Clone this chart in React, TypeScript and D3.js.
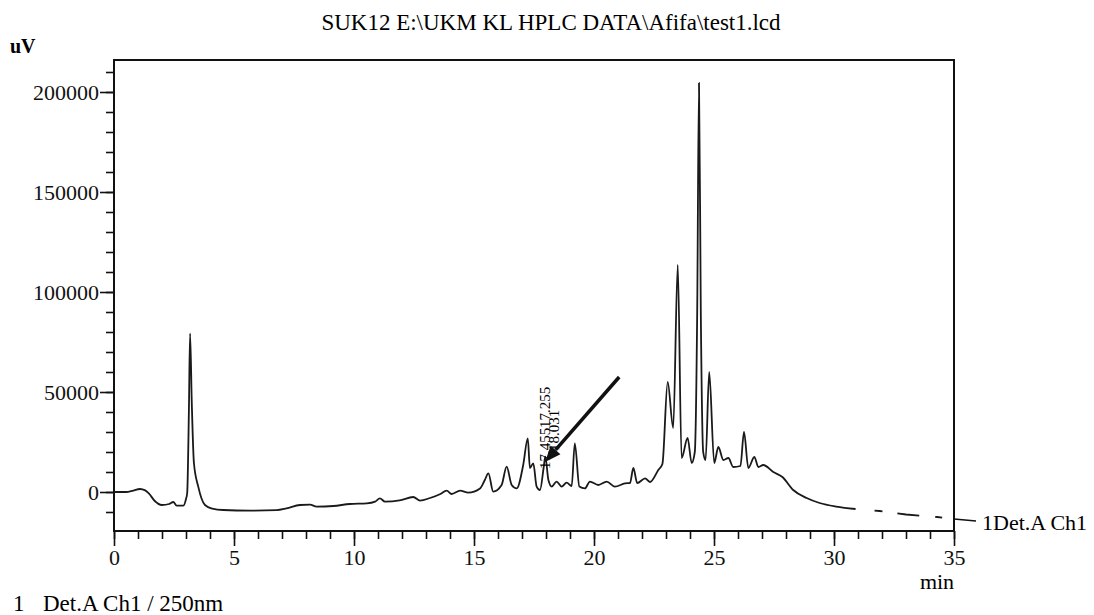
import { useEffect, useRef } from 'react';
import * as d3 from 'd3';

// retention time (min) and detector signal (uV)
const times = [
  0, 0.5, 0.8, 1.08, 1.3, 1.45, 1.7, 1.99, 2.3, 2.47, 2.61, 2.89, 3.0, 3.05, 3.12, 3.17, 3.24, 3.33, 3.51, 3.79,
  4.1, 4.55, 5.67, 6.78, 7.19, 7.75, 8.17, 8.44, 9.14, 9.83, 10.53, 10.88, 11.08, 11.29, 11.9, 12.47, 12.75, 13.17,
  13.6, 13.86, 14.07, 14.42, 14.76, 15.25, 15.45, 15.6, 15.8, 16.15, 16.36, 16.57, 16.78, 17.05, 17.24, 17.33, 17.47,
  17.61, 17.75, 17.9, 17.97, 18.1, 18.24, 18.44, 18.65, 18.86, 19.07, 19.2, 19.39, 19.62, 19.83, 20.18, 20.53, 20.87,
  21.29, 21.5, 21.64, 21.8, 22.13, 22.33, 22.68, 22.85, 23.07, 23.3, 23.49, 23.65, 23.9, 24.07, 24.2, 24.3, 24.375,
  24.45, 24.55, 24.65, 24.8, 25.01, 25.18, 25.39, 25.6, 25.8, 26.1, 26.25, 26.43, 26.68, 26.85, 27.05, 27.47, 27.85,
  28.3, 28.86, 29.4, 30.1, 30.9
];
const signal = [
  0, 0, 700, 1500, 800, -700, -4500, -6500, -6000, -5000, -6800, -6800, -3500, -500, 40000, 79300, 45000, 14500, 2700, -6500,
  -8300, -9000, -9300, -9100, -8200, -6500, -6300, -7300, -7000, -6000, -5700, -4800, -3200, -4800, -4200, -2500, -4300, -3000,
  -1000, 700, -1000, 700, -300, 1800, 6000, 9300, 200, 3500, 12700, 3500, 1800, 13500, 26800, 12000, 14300,
  2700, 1000, 12000, 17700, 6000, 2700, 5200, 2700, 4700, 3000, 24300, 2700, 1800, 5200, 3500, 5200, 2700,
  4300, 4500, 12000, 4500, 6800, 5000, 11000, 14000, 55000, 32000, 113500, 17000, 27000, 14500, 20000, 90000, 204500,
  90000, 20000, 16000, 60000, 14500, 22500, 16000, 17000, 12500, 13000, 30000, 12000, 17500, 12500, 13500, 10000, 7500,
  1000, -3000, -5500, -7300, -8500
];
// baseline drift drawn dashed after the run data ends
const tailTimes = [30.9, 31.9, 33.0, 34.3, 35];
const tailSignal = [-8500, -9500, -11250, -12500, -13500];

const yMinor = d3.range(-10000, 210001, 10000);
const yMajor = [0, 50000, 100000, 150000, 200000];
const xMinor = d3.range(0, 36, 1);
const xMajor = [0, 5, 10, 15, 20, 25, 30, 35];

const peakLabels = ['17.255', '17.455', '18.031'];
const peakLabelTimes = [17.255, 17.455, 18.031];
const peakLabelTops = [19500, -1000, 8000];

const titleText = 'SUK12 E:\\UKM KL HPLC DATA\\Afifa\\test1.lcd';
const channelName = '1Det.A Ch1';
const legendText = 'Det.A Ch1 / 250nm';

const FONT = 'Liberation Serif, Tinos, DejaVu Serif, serif';

export default function App() {
  const svgRef = useRef<SVGSVGElement>(null);

  useEffect(() => {
    const svg = d3.select(svgRef.current);
    svg.selectAll('*').remove();

    const width = 1094;
    const height = 615;
    const margin = { top: 60, right: 140, bottom: 84, left: 114 };

    svg.attr('width', width).attr('height', height)
      .attr('font-family', FONT);

    const x = d3.scaleLinear()
      .domain([0, 35])
      .range([margin.left, width - margin.right]);

    const y = d3.scaleLinear()
      .domain([-19500, 216000])
      .range([height - margin.bottom, margin.top]);

    const [x0, x1] = x.range();
    const [yb, yt] = y.range();

    // title + unit
    svg.append('text')
      .attr('x', 551)
      .attr('y', 30)
      .attr('text-anchor', 'middle')
      .attr('font-family', FONT)
      .attr('font-size', 23)
      .text(titleText);

    svg.append('text')
      .attr('x', 10)
      .attr('y', 53)
      .attr('font-family', FONT)
      .attr('font-size', 20)
      .attr('font-weight', 'bold')
      .text('uV');

    // axes: minor and major ticks as separate calls
    const styleAxis = (g: any) => {
      g.attr('font-family', FONT).attr('font-size', 22);
      g.select('.domain').remove();
      g.selectAll('line').attr('stroke', '#111').attr('stroke-width', 1.6);
      g.selectAll('text').attr('fill', '#111');
    };

    svg.append('g')
      .attr('transform', `translate(${x0},0)`)
      .call(d3.axisLeft(y).tickValues(yMinor).tickSize(8).tickFormat(() => ''))
      .call(styleAxis);

    svg.append('g')
      .attr('transform', `translate(${x0},0)`)
      .call(d3.axisLeft(y).tickValues(yMajor).tickSize(14).tickPadding(1).tickFormat(d3.format('d')))
      .call(styleAxis)
      .selectAll('text')
      .attr('dy', '0.34em');

    svg.append('g')
      .attr('transform', `translate(0,${yb})`)
      .call(d3.axisBottom(x).tickValues(xMinor).tickSize(8).tickFormat(() => ''))
      .call(styleAxis);

    svg.append('g')
      .attr('transform', `translate(0,${yb})`)
      .call(d3.axisBottom(x).tickValues(xMajor).tickSize(15).tickPadding(3).tickFormat(d3.format('d')))
      .call(styleAxis);

    svg.append('text')
      .attr('x', 937)
      .attr('y', 589)
      .attr('text-anchor', 'middle')
      .attr('font-family', FONT)
      .attr('font-size', 22)
      .text('min');

    // frame
    svg.append('rect')
      .attr('x', x0)
      .attr('y', yt)
      .attr('width', x1 - x0)
      .attr('height', yb - yt)
      .attr('fill', 'none')
      .attr('stroke', '#111')
      .attr('stroke-width', 2);

    const line = d3.line<number>()
      .x(d => x(d))
      .curve(d3.curveMonotoneX);

    svg.append('path')
      .attr('d', line.y((_, i) => y(signal[i]))(times))
      .attr('fill', 'none')
      .attr('stroke', '#1a1a1a')
      .attr('stroke-width', 1.8)
      .attr('stroke-linejoin', 'round');

    const tailLine = d3.line<number>()
      .x(d => x(d))
      .y((_, i) => y(tailSignal[i]));

    svg.append('path')
      .attr('d', tailLine(tailTimes))
      .attr('fill', 'none')
      .attr('stroke', '#1a1a1a')
      .attr('stroke-width', 1.8)
      .attr('stroke-dasharray', '0 19 8 15 22 16 7 40');

    // channel tag at right end
    const endY = y(tailSignal[tailSignal.length - 1]);
    svg.append('line')
      .attr('x1', x1)
      .attr('y1', endY)
      .attr('x2', x1 + 22)
      .attr('y2', endY + 2)
      .attr('stroke', '#111')
      .attr('stroke-width', 1.5);

    svg.append('text')
      .attr('x', x1 + 28)
      .attr('y', endY + 11)
      .attr('font-family', FONT)
      .attr('font-size', 22)
      .text(channelName);

    // rotated peak labels
    peakLabels.forEach((label, i) => {
      const dx = [22, 17, 12][i];
      svg.append('text')
        .attr('transform', `translate(${x(peakLabelTimes[i]) + dx},${y(peakLabelTops[i]) - 25}) rotate(-90)`)
        .attr('font-family', FONT)
        .attr('font-size', 15)
        .text(label);
    });

    // arrow pointing at the 18 min peak
    const ax0 = x(21.05);
    const ay0 = y(57500);
    const ax1 = x(17.96);
    const ay1 = y(15000);
    const len = Math.hypot(ax1 - ax0, ay1 - ay0);
    const ux = (ax1 - ax0) / len;
    const uy = (ay1 - ay0) / len;
    const head = 16;
    const half = 6.5;
    const bx = ax1 - ux * head;
    const by = ay1 - uy * head;

    svg.append('line')
      .attr('x1', ax0)
      .attr('y1', ay0)
      .attr('x2', bx)
      .attr('y2', by)
      .attr('stroke', '#111')
      .attr('stroke-width', 3.5);

    svg.append('polygon')
      .attr('points', [
        [ax1, ay1],
        [bx - uy * half, by + ux * half],
        [bx + uy * half, by - ux * half]
      ].map(p => p.join(',')).join(' '))
      .attr('fill', '#111');

    // footer legend
    svg.append('text')
      .attr('x', 13)
      .attr('y', 611)
      .attr('font-family', FONT)
      .attr('font-size', 23)
      .text('1');

    svg.append('text')
      .attr('x', 43)
      .attr('y', 611)
      .attr('font-family', FONT)
      .attr('font-size', 23)
      .text(legendText);
  }, []);

  return (
    <svg
      ref={svgRef}
      style={{ position: 'absolute', left: 0, top: 0, background: '#fff' }}
    />
  );
}
